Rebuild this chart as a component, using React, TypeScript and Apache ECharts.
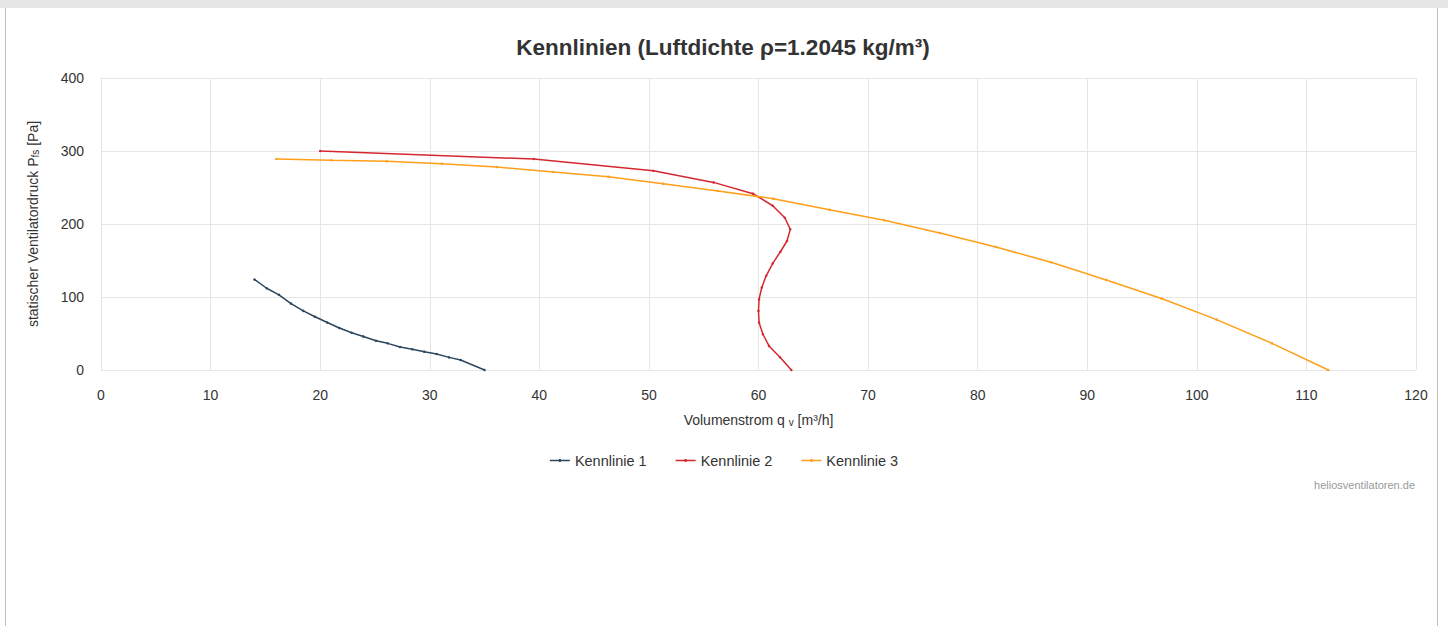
import React, { useEffect, useRef } from "react";
import * as echarts from "echarts";

const seriesNames = ["Kennlinie 1", "Kennlinie 2", "Kennlinie 3"];
const colors = ["#2b4760", "#d4282f", "#ff9f1a"];

const k1Flow = [14, 15.12, 16.24, 17.34, 18.46, 19.53, 20.65, 21.75, 22.88, 23.94, 25.1, 26.16, 27.29, 28.41, 29.5, 30.63, 31.76, 32.82, 35];
const k1Pressure = [124, 112, 103, 91, 81, 73, 65, 57.5, 51, 46, 40, 36.5, 31.5, 28.3, 25.1, 21.9, 17.3, 13.7, 0];

const k2Flow = [20, 39.5, 50.4, 55.9, 59.5, 61.3, 62.4, 62.9, 62.6, 62.0, 61.3, 60.7, 60.3, 60.05, 60, 60.05, 60.4, 60.96, 61.96, 63];
const k2Pressure = [300, 289, 273, 257, 241.5, 225, 208.6, 192.7, 176.7, 162, 146, 129, 113, 97, 81, 65, 49, 33, 17.4, 0];

const k3Flow = [16, 21.05, 26.07, 31.09, 36.1, 41.28, 46.3, 51.3, 56.3, 61.35, 66.48, 71.48, 76.55, 81.67, 86.7, 91.74, 96.78, 101.8, 106.86, 112];
const k3Pressure = [289, 287.2, 285.9, 282.6, 278, 271.2, 264.8, 255.2, 245.2, 234.7, 219.6, 205, 187.7, 168.5, 147.5, 123.3, 98, 69, 36.5, 0];

const FONT = "'Liberation Sans', Arial, sans-serif";
const LEGEND_ICON = "path://M0,4.2 H20 V5.8 H0 Z M9,3.5 H11 V6.5 H9 Z";

function pairs(xs: number[], ys: number[]) {
  return xs.map((x, i) => [x, ys[i]]);
}

export default function App() {
  const ref = useRef<HTMLDivElement>(null);
  useEffect(() => {
    document.body.style.margin = "0";
    const chart = echarts.init(ref.current!, null, { renderer: "svg" });
    const data = [pairs(k1Flow, k1Pressure), pairs(k2Flow, k2Pressure), pairs(k3Flow, k3Pressure)];
    chart.setOption({
      animation: false,
      textStyle: { fontFamily: FONT },
      title: {
        text: "Kennlinien (Luftdichte ρ=1.2045 kg/m³)",
        left: 718,
        textAlign: "center",
        top: 31,
        textStyle: { fontSize: 22.5, fontWeight: "bold", color: "#333", fontFamily: FONT },
      },
      grid: { left: 101, right: 32, top: 78, bottom: 256, containLabel: false },
      legend: {
        top: 448,
        left: "center",
        icon: LEGEND_ICON,
        itemWidth: 20,
        itemHeight: 10,
        itemGap: 29,
        textStyle: { fontSize: 14.5, color: "#333", fontFamily: FONT },
        data: seriesNames,
      },
      xAxis: {
        type: "value",
        min: 0,
        max: 120,
        interval: 10,
        name: "Volumenstrom q {s|v} [m³/h]",
        nameLocation: "middle",
        nameGap: 43,
        nameTextStyle: {
          fontSize: 14,
          color: "#333",
          fontFamily: FONT,
          rich: { s: { fontSize: 10, color: "#333", padding: [4, 0, 0, 0], fontFamily: FONT } },
        },
        axisLine: { show: false },
        axisTick: { show: false },
        axisLabel: { fontSize: 14, color: "#333", margin: 18, fontFamily: FONT },
        splitLine: { show: true, lineStyle: { color: "#e6e6e6", width: 1 } },
      },
      yAxis: {
        type: "value",
        min: 0,
        max: 400,
        interval: 100,
        name: "statischer Ventilatordruck P{s|fs} [Pa]",
        nameLocation: "middle",
        nameGap: 61,
        nameRotate: 90,
        nameTextStyle: {
          fontSize: 14,
          color: "#333",
          fontFamily: FONT,
          rich: { s: { fontSize: 10, color: "#333", padding: [4, 0, 0, 0], fontFamily: FONT } },
        },
        axisLine: { show: false },
        axisTick: { show: false },
        axisLabel: { fontSize: 14, color: "#333", margin: 17, fontFamily: FONT },
        splitLine: { show: true, lineStyle: { color: "#e6e6e6", width: 1 } },
      },
      graphic: [
        {
          type: "text",
          right: 33,
          top: 479,
          style: { text: "heliosventilatoren.de", fontSize: 11, fill: "#999", font: "11px " + FONT },
        },
      ],
      series: seriesNames.map((name, i) => ({
        name,
        type: "line",
        data: data[i],
        color: colors[i],
        symbol: "circle",
        symbolSize: 2.5,
        showSymbol: true,
        smooth: false,
        lineStyle: { width: 1.5, color: colors[i] },
        itemStyle: { color: colors[i] },
      })),
    });
    return () => chart.dispose();
  }, []);
  return (
    <div style={{ position: "relative", width: 1448, height: 626, background: "#fff", overflow: "hidden" }}>
      <div style={{ position: "absolute", left: 0, top: 0, width: 1448, height: 8, background: "#e6e6e6" }} />
      <div style={{ position: "absolute", left: 5, top: 8, width: 1, height: 618, background: "#bdbdbd" }} />
      <div style={{ position: "absolute", left: 1437, top: 8, width: 1, height: 618, background: "#bdbdbd" }} />
      <div ref={ref} style={{ position: "absolute", left: 0, top: 0, width: 1448, height: 626 }} />
    </div>
  );
}
